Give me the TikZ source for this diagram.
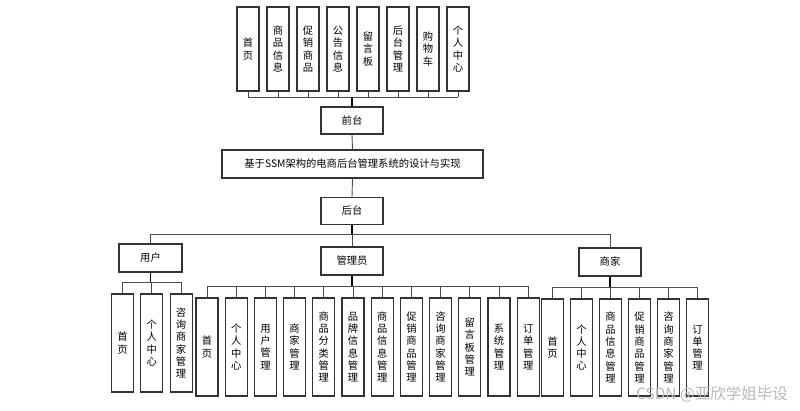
\documentclass[tikz,border=0pt]{standalone}
\usepackage{fontspec}
\setmainfont{Noto Sans CJK SC}
\begin{document}
\begin{tikzpicture}[x=1pt,y=-1pt,
  box/.style={draw=black!80,line width=1.1pt,fill=white,inner sep=0pt,align=center,
    font=\fontsize{10.3}{12.3}\selectfont},
  vbox/.style={box,minimum width=22pt},
  hbox/.style={box,minimum width=62pt,minimum height=27pt},
  conn/.style={draw=black!70,line width=0.9pt},
  stub/.style={draw=black,line width=1.7pt}]
\useasboundingbox (0,0) rectangle (800,410);
% top level
\foreach \t [count=\i from 0] in {{首\\页},{商\\品\\信\\息},{促\\销\\商\\品},{公\\告\\信\\息},{留\\言\\板},{后\\台\\管\\理},{购\\物\\车},{个\\人\\中\\心}}{
  \node[vbox,minimum height=84pt] (t\i) at (248+30*\i,49) {\t};
}
\node[hbox] (qt) at (352,120.5) {前台};
\node[box,minimum width=261pt,minimum height=28pt] (title) at (352.5,164) {基于SSM架构的电商后台管理系统的设计与实现};
\node[hbox] (ht) at (352,211) {后台};
\node[box,minimum width=63pt,minimum height=28pt] (yh) at (150.5,258) {用户};
\node[box,minimum width=62pt,minimum height=28pt] (gl) at (352,261) {管理员};
\node[box,minimum width=62pt,minimum height=28pt] (sj) at (610,262) {商家};
% user children
\foreach \t [count=\i from 0] in {{首\\页},{个\\人\\中\\心},{咨\\询\\商\\家\\管\\理}}{
  \node[vbox,minimum height=98pt] (u\i) at (122.5+29.3*\i,343) {\t};
}
% admin children
\foreach \t [count=\i from 0] in {{首\\页},{个\\人\\中\\心},{用\\户\\管\\理},{商\\家\\管\\理},{商\\品\\分\\类\\管\\理},{品\\牌\\信\\息\\管\\理},{商\\品\\信\\息\\管\\理},{促\\销\\商\\品\\管\\理},{咨\\询\\商\\家\\管\\理},{留\\言\\板\\管\\理},{系\\统\\管\\理},{订\\单\\管\\理}}{
  \node[vbox,minimum height=98pt] (a\i) at (207+29.2*\i,347) {\t};
}
% merchant children
\foreach \t [count=\i from 0] in {{首\\页},{个\\人\\中\\心},{商\\品\\信\\息\\管\\理},{促\\销\\商\\品\\管\\理},{咨\\询\\商\\家\\管\\理},{订\\单\\管\\理}}{
  \node[vbox,minimum height=97pt] (m\i) at (552.5+29*\i,347.5) {\t};
}
% bus coordinates
\coordinate (bA) at (352,97);
\coordinate (bB) at (352,234);
\coordinate (bU) at (150.5,282);
\coordinate (bG) at (352,286);
\coordinate (bM) at (610,287);
% top bus
\foreach \i in {0,...,7}{ \draw[conn] (t\i.south) -- (t\i.south |- bA); }
\draw[conn] (t0.south |- bA) -- (t7.south |- bA);
\draw[stub] (bA) -- (qt.north);
\draw[conn] (qt.south) -- (title.north);
\draw[conn] (title.south) -- (ht.north);
\draw[stub] (ht.south) -- (bB);
\draw[conn] (yh.north) -- (yh.north |- bB) -- (sj.north |- bB) -- (sj.north);
\draw[conn] (bB) -- (gl.north);
% user bus
\foreach \i in {0,1,2}{ \draw[conn] (u\i.north) -- (u\i.north |- bU); }
\draw[conn] (u0.north |- bU) -- (u2.north |- bU);
\draw[stub] (yh.south) -- (bU);
% admin bus
\foreach \i in {0,...,11}{ \draw[conn] (a\i.north) -- (a\i.north |- bG); }
\draw[conn] (a0.north |- bG) -- (a11.north |- bG);
\draw[stub] (gl.south) -- (bG);
% merchant bus
\foreach \i in {0,...,5}{ \draw[conn] (m\i.north) -- (m\i.north |- bM); }
\draw[conn] (m0.north |- bM) -- (m5.north |- bM);
\draw[stub] (sj.south) -- (bM);
% watermark
\node[text=black!28,font=\fontsize{15.5}{15.5}\selectfont,anchor=east,inner sep=0pt] (wm) at (788,394) {CSDN @亚欣学姐毕设};
\end{tikzpicture}
\end{document}
